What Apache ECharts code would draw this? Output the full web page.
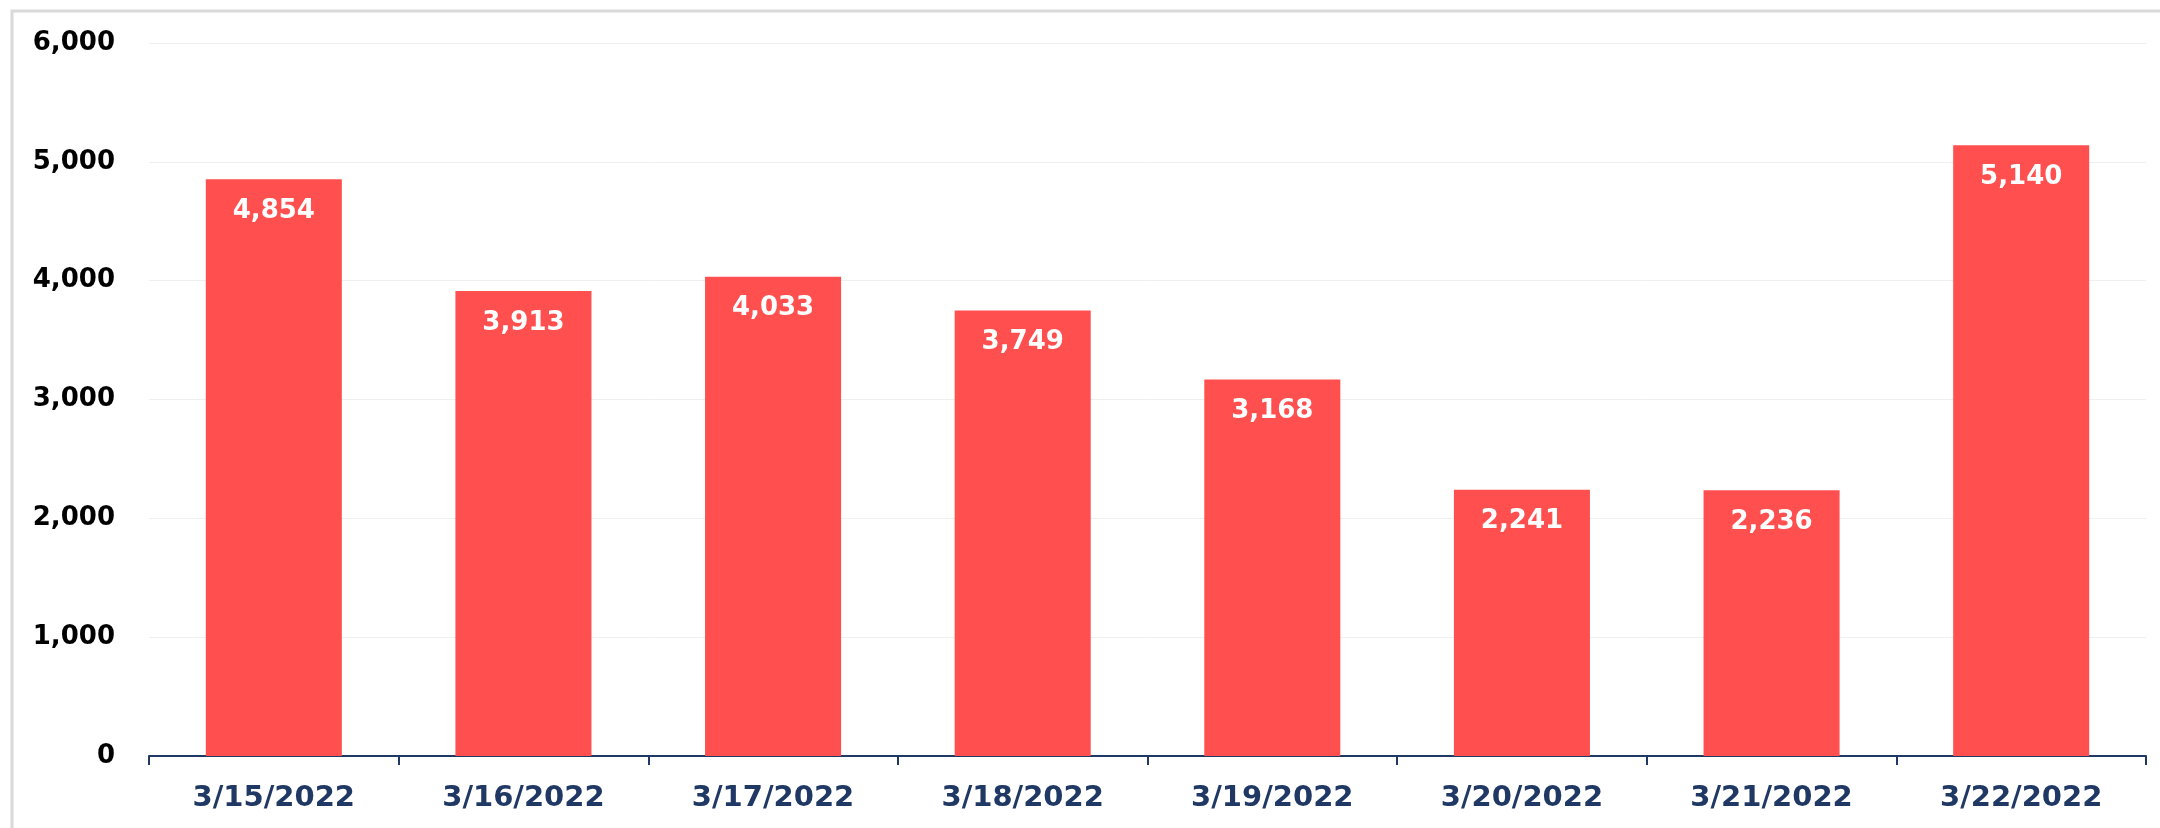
<!DOCTYPE html>
<html>
<head>
<meta charset="utf-8">
<script src="https://cdn.jsdelivr.net/npm/echarts@6/dist/echarts.min.js"></script>
<style>
html,body{margin:0;padding:0;background:#fff;}
#chart{width:2160px;height:828px;}
</style>
</head>
<body>
<div id="chart"></div>
<script>
const categories = ['3/15/2022','3/16/2022','3/17/2022','3/18/2022','3/19/2022','3/20/2022','3/21/2022','3/22/2022'];
const values = [4854, 3913, 4033, 3749, 3168, 2241, 2236, 5140];
const yTicks = [0, 1000, 2000, 3000, 4000, 5000, 6000];

const FONT = '"DejaVu Sans", Verdana, sans-serif';
const fmt = v => v.toLocaleString('en-US');

const chart = echarts.init(document.getElementById('chart'), null, {renderer: 'canvas'});
chart.setOption({
  animation: false,
  backgroundColor: '#ffffff',
  graphic: [{
    type: 'rect',
    shape: {x: 12, y: 11, width: 2300, height: 1000},
    style: {fill: 'none', stroke: '#d9d9d9', lineWidth: 3},
    silent: true
  }],
  grid: {left: 149, right: 14, top: 43, bottom: 72, containLabel: false},
  xAxis: {
    type: 'category',
    data: categories,
    axisLine: {show: true, lineStyle: {color: '#1F3864', width: 2}},
    axisTick: {show: true, alignWithLabel: false, length: 9, lineStyle: {color: '#1F3864', width: 2}},
    axisLabel: {color: '#1F3864', fontFamily: FONT, fontWeight: 'bold', fontSize: 29, margin: 28}
  },
  yAxis: {
    type: 'value',
    min: yTicks[0],
    max: yTicks[yTicks.length - 1],
    interval: 1000,
    axisLine: {show: false},
    axisTick: {show: false},
    splitLine: {show: true, lineStyle: {color: '#efefef', width: 1}},
    axisLabel: {color: '#000000', fontFamily: FONT, fontWeight: 'bold', fontSize: 26, margin: 34, formatter: v => fmt(v)}
  },
  series: [{
    type: 'bar',
    data: values,
    barWidth: '54.5%',
    itemStyle: {color: 'rgb(255,79,79)'},
    label: {
      show: true,
      position: 'insideTop',
      distance: 19,
      color: '#ffffff',
      fontFamily: FONT,
      fontWeight: 'bold',
      fontSize: 26,
      formatter: p => fmt(p.value)
    }
  }]
});
</script>
</body>
</html>
